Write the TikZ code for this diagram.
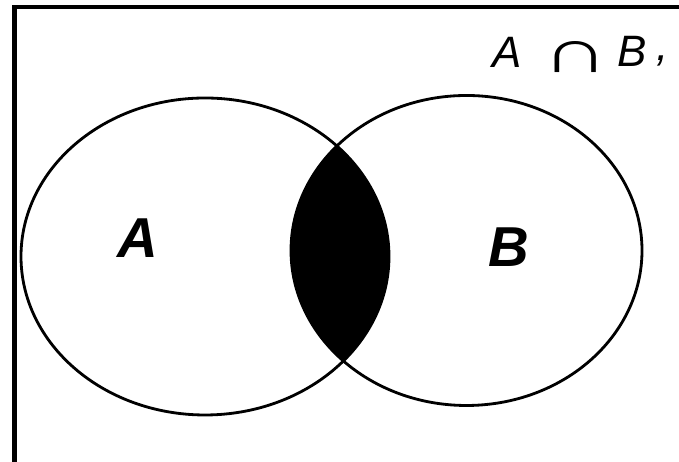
\documentclass[tikz,border=0pt]{standalone}
\usepackage{fontspec}
\setmainfont{Liberation Sans}

\begin{document}
\begin{tikzpicture}[
    x=0.01cm, y=-0.01cm,
    frame/.style={draw=black, line width=1.15pt},
    setline/.style={draw=black, line width=0.8pt},
    setlabel/.style={font=\fontsize{16}{16}\selectfont\itshape\bfseries, inner sep=0pt},
    toplabel/.style={font=\fontsize{12.5}{12.5}\selectfont\itshape, inner sep=0pt},
]
\useasboundingbox (0,0) rectangle (679,462);

% === FRAME ===
\draw[frame] (14.5,462) -- (14.5,7) -- (679,7);

% === INTERSECTION ===
\begin{scope}
\clip (205,256.5) ellipse [x radius=184, y radius=158.5];
\fill[black] (466.5,250.5) ellipse [x radius=175.5, y radius=155];
\end{scope}

% === SETS ===
\draw[setline] (205,256.5) ellipse [x radius=184, y radius=158.5];
\draw[setline] (466.5,250.5) ellipse [x radius=175.5, y radius=155];

\node[setlabel] (labelA) at (138,238) {A};
\node[setlabel] (labelB) at (509,247) {B};

% === TITLE ===
\node[toplabel] (titleA) at (507,52) {A};
\node[toplabel] (titlecap) at (576,57) {\scalebox{2.1}[1.4]{∩}};
\node[toplabel] (titleB) at (632,51) {B};
\node[toplabel, anchor=south west] (titlecomma) at (656,67) {,};

\end{tikzpicture}
\end{document}
